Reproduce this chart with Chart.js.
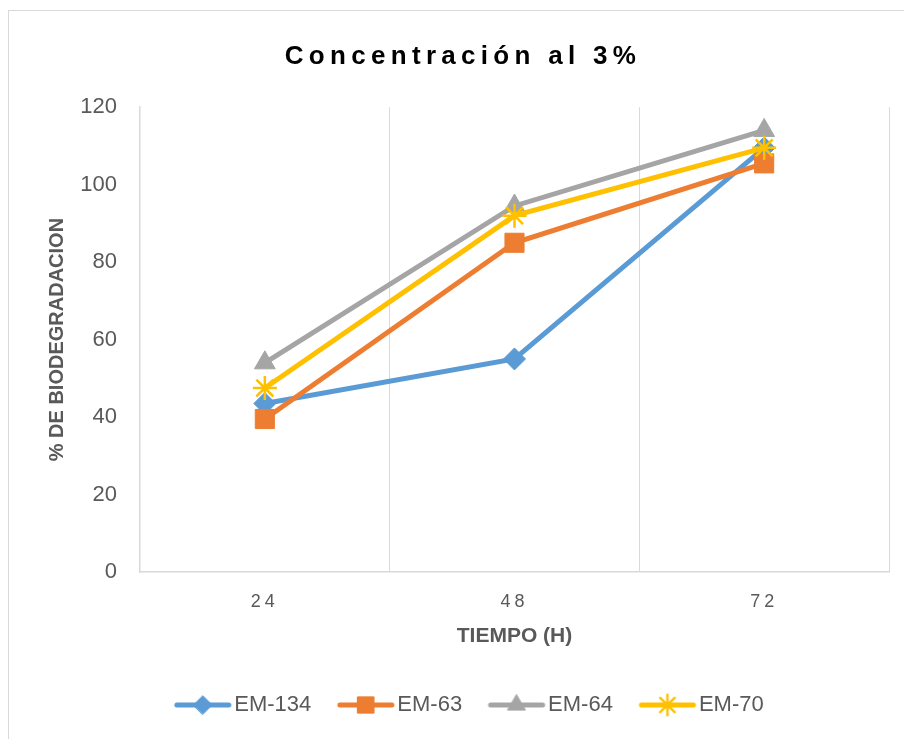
<!DOCTYPE html>
<html>
<head>
<meta charset="utf-8">
<script src="https://cdn.jsdelivr.net/npm/chart.js@4.4.1/dist/chart.umd.min.js"></script>
<style>
  html, body { margin: 0; padding: 0; background: #ffffff; overflow: hidden; }
  #wrap { position: relative; width: 904px; height: 739px; }
  #frame { position: absolute; left: 8px; top: 10px; width: 1000px; height: 1000px;
           border: 1.5px solid #d9d9d9; box-sizing: border-box; }
  canvas { position: absolute; left: 0; top: 0; }
</style>
</head>
<body>
<div id="wrap">
  <div id="frame"></div>
  <canvas id="chart" width="904" height="739"></canvas>
</div>
<script>
// Sampling times (hours) and biodegradation percentages per strain
const tiempos = ['24', '48', '72'];
const em134 = [43.5, 55, 109.5];
const em63 = [39.5, 85, 105.5];
const em64 = [54, 94.5, 114];
const em70 = [47.5, 92, 109.5];
const yTicks = [0, 20, 40, 60, 80, 100, 120];

const SANS = "'Liberation Sans', Arial, sans-serif";
const TEXT = '#595959';
const GRID = '#d9d9d9';

const series = [
  { label: 'EM-134', data: em134, color: '#5B9BD5', style: 'rectRot', radius: 11, bw: 1, order: 4 },
  { label: 'EM-63',  data: em63,  color: '#ED7D31', style: 'rect',    radius: 13.5, bw: 1, order: 3 },
  { label: 'EM-64',  data: em64,  color: '#A5A5A5', style: 'triangle', radius: 12, bw: 1, order: 2 },
  { label: 'EM-70',  data: em70,  color: '#FFC000', style: 'star',    radius: 12, bw: 2.5, order: 1 }
];

// Legend swatch: short line with the series marker in the middle,
// sitting in the right part of an 80px wide canvas
function legendSwatch(s) {
  const c = document.createElement('canvas');
  c.width = 80; c.height = 28;
  const g = c.getContext('2d');
  g.strokeStyle = s.color; g.fillStyle = s.color;
  g.lineWidth = 5; g.lineCap = 'round';
  g.beginPath(); g.moveTo(24, 14); g.lineTo(76, 14); g.stroke();
  g.lineWidth = s.bw;
  Chart.helpers.drawPoint(g, { pointStyle: s.style, radius: s.radius * 0.85, borderWidth: s.bw, rotation: 0 }, 50, 14);
  return c;
}

// Letter-spaced text for the chart title and the time axis labels
const spacing = {
  id: 'spacing',
  beforeDraw(chart) {
    const t = chart.titleBlock;
    if (t && !t.__spaced) {
      const d = t.draw.bind(t);
      t.draw = function (area) { const c = this.ctx; c.save(); c.letterSpacing = '5.3px'; d(area); c.restore(); };
      t.__spaced = true;
    }
    const x = chart.scales.x;
    if (x && !x.__spaced) {
      const dl = x.drawLabels.bind(x);
      x.drawLabels = function (area) { const c = this.ctx; c.save(); c.letterSpacing = '4px'; dl(area); c.restore(); };
      x.__spaced = true;
    }
  }
};

new Chart(document.getElementById('chart'), {
  type: 'line',
  data: {
    labels: tiempos,
    datasets: series.map(s => ({
      label: s.label,
      data: s.data,
      borderColor: s.color,
      backgroundColor: s.color,
      borderWidth: 5,
      tension: 0,
      pointStyle: s.style,
      pointRadius: s.radius,
      pointHoverRadius: s.radius,
      pointBorderWidth: s.bw,
      pointBackgroundColor: s.color,
      pointBorderColor: s.color,
      order: s.order
    }))
  },
  options: {
    responsive: false,
    animation: false,
    layout: { padding: { left: 37, right: 15, top: 0, bottom: 13 } },
    plugins: {
      title: {
        display: true,
        text: 'Concentración al 3%',
        color: '#000000',
        font: { family: SANS, size: 26, weight: 'bold' },
        padding: { top: 41, bottom: 35 }
      },
      legend: {
        position: 'bottom',
        labels: {
          usePointStyle: true,
          pointStyleWidth: 61,
          padding: 14,
          color: TEXT,
          font: { family: SANS, size: 22 },
          generateLabels(chart) {
            return series.map((s, i) => ({
              text: s.label,
              fillStyle: s.color,
              strokeStyle: s.color,
              lineWidth: 0,
              pointStyle: legendSwatch(s),
              hidden: !chart.isDatasetVisible(i),
              datasetIndex: i,
              fontColor: TEXT
            }));
          }
        }
      },
      tooltip: { enabled: false }
    },
    scales: {
      x: {
        offset: true,
        grid: { display: true, offset: true, color: GRID, lineWidth: 1, drawTicks: false },
        border: { display: true, color: GRID, width: 1.5 },
        ticks: { color: TEXT, padding: 19, font: { family: SANS, size: 18 } },
        title: {
          display: true, text: 'TIEMPO (H)', color: TEXT,
          font: { family: SANS, size: 21, weight: 'bold' },
          padding: { top: 12, bottom: 31.4 }
        },
        afterFit(scale) { scale.height = 108; }
      },
      y: {
        min: 0, max: 120,
        afterBuildTicks(scale) { scale.ticks = yTicks.map(v => ({ value: v })); },
        grid: { display: false, drawTicks: false },
        border: { display: true, color: GRID, width: 1.5 },
        ticks: { color: TEXT, padding: 23, font: { family: SANS, size: 22 } },
        title: {
          display: true, text: '% DE BIODEGRADACION', color: TEXT,
          font: { family: SANS, size: 20, weight: 'bold' },
          padding: { top: 8, bottom: 0 }
        },
        afterFit(scale) { scale.width = 103; }
      }
    }
  },
  plugins: [spacing]
});
</script>
</body>
</html>
